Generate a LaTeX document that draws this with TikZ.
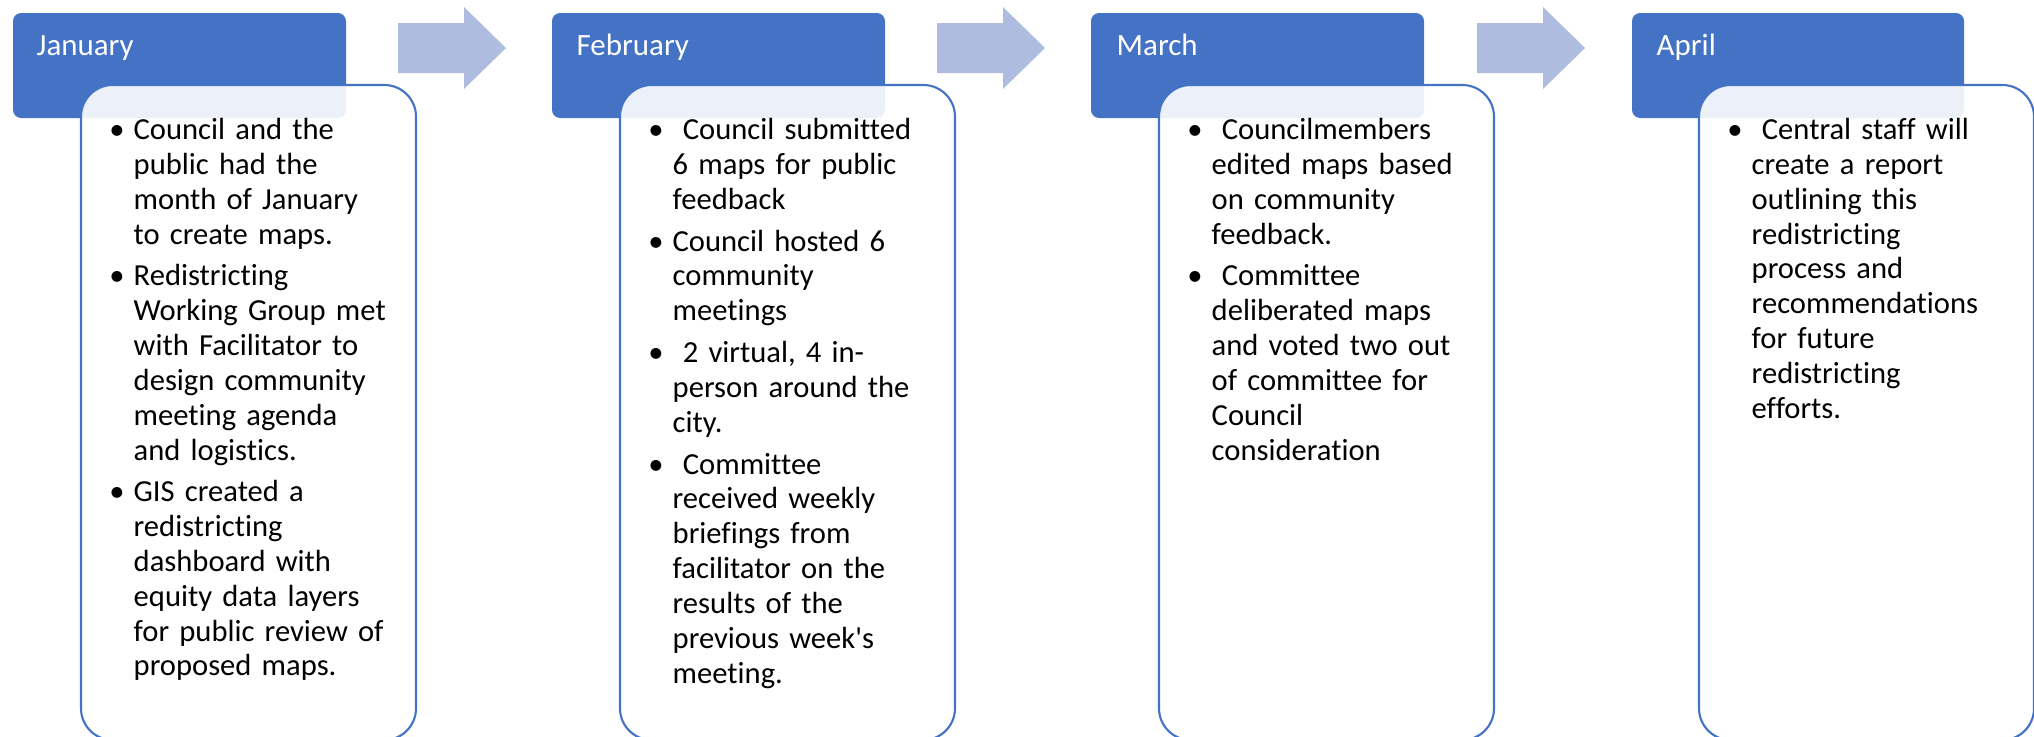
\documentclass[tikz,border=0pt]{standalone}
\usepackage{fontspec}
\setmainfont{Carlito}[Ligatures={NoCommon}]
\definecolor{MonthBlue}{RGB}{68, 114, 196}
\definecolor{StepArrow}{RGB}{174, 189, 223}
\newcommand{\bul}{\leavevmode\llap{\textbullet\hspace{2.6pt}}}

\begin{document}
\begin{tikzpicture}[x=0.01cm,y=-0.01cm,
    monthhead/.style={fill=MonthBlue, rounded corners=2.3pt},
    monthbox/.style={draw=MonthBlue, line width=0.6pt, fill=white, fill opacity=0.9, rounded corners=9pt},
    monthlabel/.style={anchor=base west, inner sep=0pt, text=white, font=\fontsize{8.8}{10}\selectfont},
    itemtext/.style={anchor=north west, inner sep=0pt, text width=3.2cm, align=left, font=\fontsize{8.7}{9.9}\selectfont},
    steparrow/.style={fill=StepArrow}]
  \useasboundingbox (0,0) rectangle (2034,736);
  % arrows between months
  \fill[steparrow] (398,23) -- (464,23) -- (464,7) -- (506,48) -- (464,89) -- (464,73) -- (398,73) -- cycle;
  \fill[steparrow] (937,23) -- (1003,23) -- (1003,7) -- (1045,48) -- (1003,89) -- (1003,73) -- (937,73) -- cycle;
  \fill[steparrow] (1477,23) -- (1543,23) -- (1543,7) -- (1585,48) -- (1543,89) -- (1543,73) -- (1477,73) -- cycle;
  % January
  \fill[monthhead] (13,13) rectangle (346,118);
  \node[monthlabel] (jan) at (36,55) {January};
  \draw[monthbox] (81,85) rectangle (416,740);
  \node[itemtext] (janText) at (133,114.6) {\strut\bul Council and the\\public had the\\month of January\\to create maps.\\[2pt]
    \bul Redistricting\\Working Group met\\with Facilitator to\\design community\\meeting agenda\\and logistics.\\[2pt]
    \bul GIS created a\\redistricting\\dashboard with\\equity data layers\\for public review of\\proposed maps.};
  % February
  \fill[monthhead] (552,13) rectangle (885,118);
  \node[monthlabel] (feb) at (576,55) {February};
  \draw[monthbox] (620,85) rectangle (955,740);
  \node[itemtext] (febText) at (672,114.6) {\strut\bul\ Council submitted\\6 maps for public\\feedback\\[2pt]
    \bul Council hosted 6\\community\\meetings\\[2pt]
    \bul\ 2 virtual, 4 in-\\person around the\\city.\\[2pt]
    \bul\ Committee\\received weekly\\briefings from\\facilitator on the\\results of the\\previous week\textquotesingle s\\meeting.};
  % March
  \fill[monthhead] (1091,13) rectangle (1424,118);
  \node[monthlabel] (mar) at (1116,55) {March};
  \draw[monthbox] (1159,85) rectangle (1494,740);
  \node[itemtext] (marText) at (1211,114.6) {\strut\bul\ Councilmembers\\edited maps based\\on community\\feedback.\\[2pt]
    \bul\ Committee\\deliberated maps\\and voted two out\\of committee for\\Council\\consideration};
  % April
  \fill[monthhead] (1632,13) rectangle (1964,118);
  \node[monthlabel] (apr) at (1656,55) {April};
  \draw[monthbox] (1699,85) rectangle (2034,740);
  \node[itemtext] (aprText) at (1751,114.6) {\strut\bul\ Central staff will\\create a report\\outlining this\\redistricting\\process and\\recommendations\\for future\\redistricting\\efforts.};
\end{tikzpicture}
\end{document}
